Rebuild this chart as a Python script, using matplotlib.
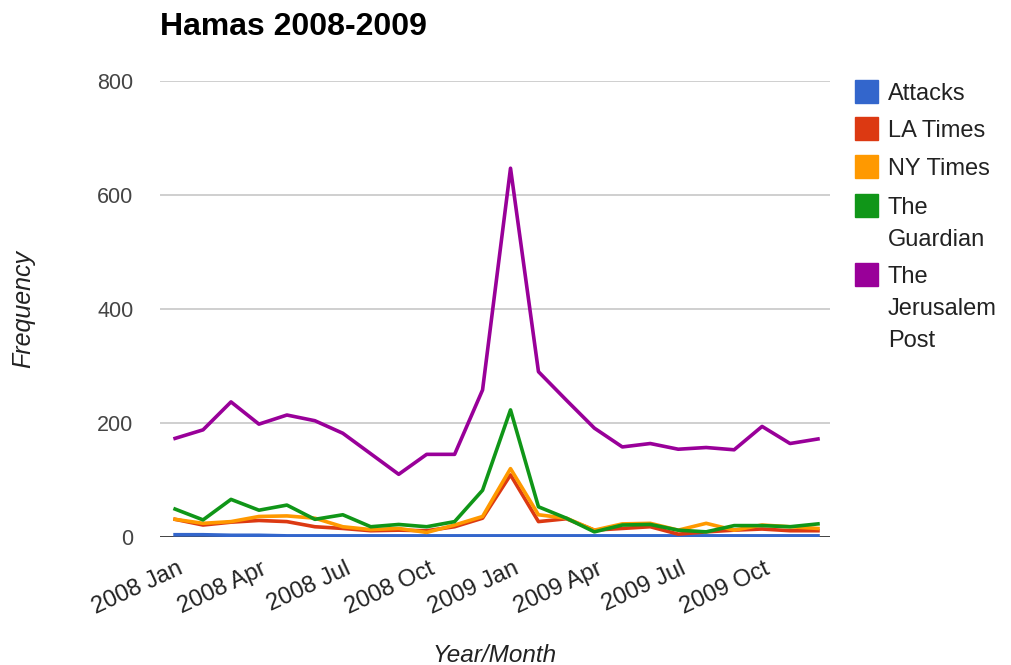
import matplotlib
matplotlib.use("Agg")
import matplotlib.pyplot as plt
import matplotlib.patches as mpatches
from matplotlib.transforms import ScaledTranslation

plt.rcParams['font.family'] = ['Liberation Sans', 'DejaVu Sans']

# monthly counts, 2008 Jan .. 2009 Dec
months = [f"{y} {m}" for y in (2008, 2009)
          for m in ("Jan", "Feb", "Mar", "Apr", "May", "Jun",
                    "Jul", "Aug", "Sep", "Oct", "Nov", "Dec")]

attacks = [4, 4, 3, 3, 2, 2, 2, 2, 2, 2, 2, 2,
           2, 2, 2, 2, 2, 2, 2, 2, 2, 2, 2, 2]
la_times = [31, 21, 26, 29, 27, 18, 15, 11, 12, 11, 18, 33,
            109, 27, 32, 12, 15, 18, 5, 9, 12, 14, 11, 11]
ny_times = [31, 24, 27, 36, 37, 33, 18, 13, 15, 8, 21, 36,
            120, 39, 33, 12, 23, 24, 12, 24, 12, 21, 18, 15]
guardian = [49, 30, 66, 47, 56, 31, 39, 18, 22, 18, 27, 82,
            223, 53, 33, 9, 21, 22, 12, 9, 20, 20, 18, 23]
jpost = [173, 188, 237, 198, 214, 204, 182, 146, 110, 145, 145, 258,
         647, 290, 240, 191, 158, 164, 154, 157, 153, 194, 164, 172]

series_names = ["Attacks", "LA Times", "NY Times", "The\nGuardian", "The\nJerusalem\nPost"]
series_data = [attacks, la_times, ny_times, guardian, jpost]
colors = ["#3366cc", "#dc3912", "#ff9900", "#109618", "#990099"]

yticks = [0, 200, 400, 600, 800]
tick_idx = list(range(0, 24, 3))

fig = plt.figure(figsize=(10.11, 6.65), dpi=100)
ax = fig.add_axes([160 / 1011, 128 / 665, 670 / 1011, 456 / 665])

x = list(range(len(months)))
for data, c in zip(series_data, colors):
    ax.plot(x, data, color=c, lw=2.6, solid_joinstyle='round', zorder=3)

ax.set_xlim(-0.54, 23.43)
ax.set_ylim(0, 800)

# gridlines + baseline
for v in yticks[1:]:
    ax.axhline(v, color="#cccccc", lw=1.3, zorder=1)
ax.axhline(0, color="#333333", lw=1.3, zorder=2)

for s in ax.spines.values():
    s.set_visible(False)

ax.set_yticks(yticks)
ax.set_yticklabels([str(v) for v in yticks])
ax.tick_params(axis='y', length=0, pad=19, labelsize=15.5, labelcolor="#444444")

ax.set_xticks(tick_idx)
ax.set_xticklabels([months[i] for i in tick_idx], rotation=25, ha='right',
                   rotation_mode='anchor')
ax.tick_params(axis='x', length=0, pad=15, labelsize=17, labelcolor="#222222")
shift = ScaledTranslation(2 / 100, 0, fig.dpi_scale_trans)
for lab in ax.get_xticklabels():
    lab.set_transform(lab.get_transform() + shift)

ax.set_xlabel("Year/Month", fontsize=17.5, style='italic', color="#222222", labelpad=18)
ax.set_ylabel("Frequency", fontsize=18, style='italic', color="#222222", labelpad=45)

fig.text(160 / 1011, 1 - 27 / 665, "Hamas 2008-2009", fontsize=23, fontweight='bold',
         va='center', ha='left', color="black")

# legend on the right
row_y = [92, 129, 167, 206, 275]
for name, c, yy in zip(series_names, colors, row_y):
    fig.add_artist(mpatches.Rectangle((855 / 1011, 1 - (yy + 11) / 665), 23 / 1011, 23 / 665,
                                      transform=fig.transFigure, color=c))
    fig.text(888 / 1011, 1 - (yy - 9) / 665, name, fontsize=17, color="#222222",
             va='top', ha='left', linespacing=1.6)

fig.savefig("out.png", dpi=100)
